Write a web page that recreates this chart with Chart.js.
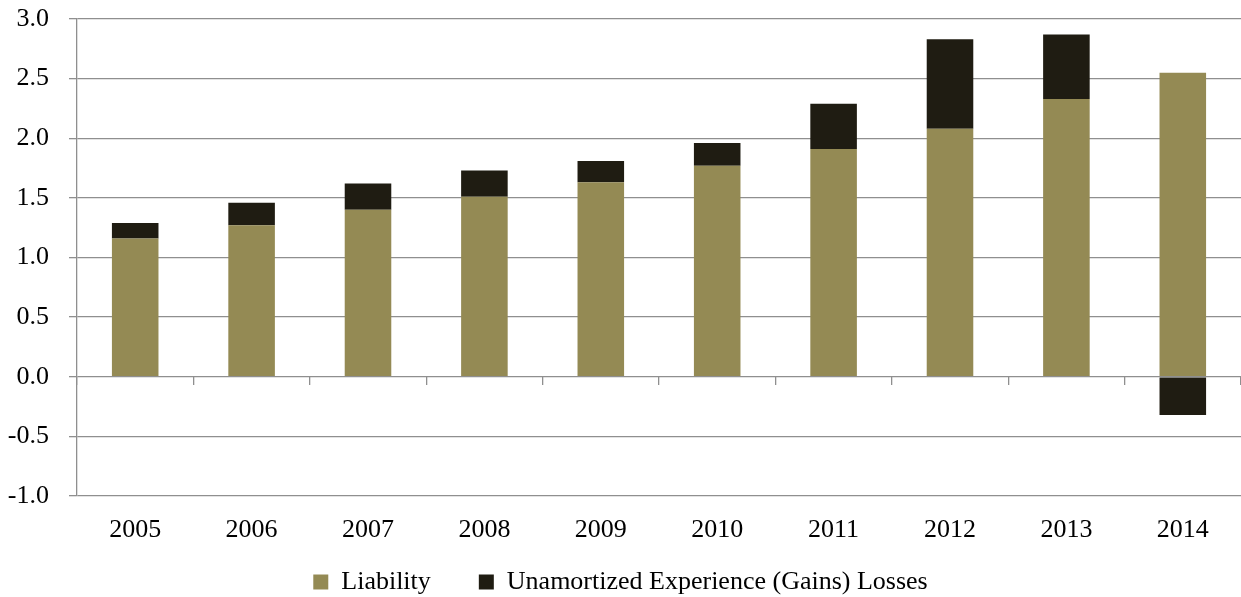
<!DOCTYPE html>
<html>
<head>
<meta charset="utf-8">
<script src="https://cdn.jsdelivr.net/npm/chart.js@4"></script>
<style>
  html, body { margin: 0; padding: 0; background: #fff; }
</style>
</head>
<body>
<canvas id="myChart" width="1241" height="597"></canvas>
<script>
// chart data
const years = ["2005", "2006", "2007", "2008", "2009", "2010", "2011", "2012", "2013", "2014"];
const liability = [1.16, 1.27, 1.40, 1.51, 1.63, 1.77, 1.91, 2.08, 2.33, 2.55];
const unamortized = [0.13, 0.19, 0.22, 0.22, 0.18, 0.19, 0.38, 0.75, 0.54, -0.32];
const yTicks = { min: -1.0, max: 3.0, step: 0.5 };

const serif = "'Liberation Serif', 'Times New Roman', serif";
const gridColor = "#8f8f8f";

const ctx = document.getElementById("myChart").getContext("2d");
new Chart(ctx, {
  type: "bar",
  data: {
    labels: years,
    datasets: [
      {
        label: "Liability",
        data: liability,
        backgroundColor: "#948a54",
        borderWidth: 0,
      },
      {
        label: "Unamortized Experience (Gains) Losses",
        data: unamortized,
        backgroundColor: "#1f1c12",
        borderWidth: 0,
      },
    ],
  },
  options: {
    responsive: false,
    animation: false,
    layout: {
      padding: { top: 19, right: 0, left: 0, bottom: -8 },
    },
    datasets: {
      bar: { barPercentage: 0.4, categoryPercentage: 1.0 },
    },
    scales: {
      x: {
        stacked: true,
        grid: { display: false },
        border: { display: false },
        afterFit: function (scale) {
          scale.height = 25;
        },
        // mirror only so the labels are not clipped to the short axis box
        ticks: {
          mirror: true,
          color: "#000",
          font: { family: serif, size: 26 },
          padding: -50,
          maxRotation: 0,
        },
      },
      // second category axis sitting on the zero line, only for its tick marks
      x2: {
        type: "category",
        labels: years,
        position: { y: 0 },
        offset: true,
        afterFit: function (scale) {
          scale.height = 0;
        },
        grid: {
          offset: true,
          drawOnChartArea: false,
          drawTicks: true,
          tickLength: 8,
          color: gridColor,
          lineWidth: 1.3,
        },
        border: { display: false },
        ticks: { display: false },
      },
      y: {
        stacked: true,
        min: yTicks.min,
        max: yTicks.max,
        afterFit: function (scale) {
          scale.width = 77;
          scale.paddingTop = 0;
          scale.paddingBottom = 0;
        },
        ticks: {
          stepSize: yTicks.step,
          color: "#000",
          font: { family: serif, size: 26 },
          padding: 20,
          callback: function (value) {
            return Number(value).toFixed(1);
          },
        },
        grid: {
          color: gridColor,
          lineWidth: 1.3,
          tickLength: 8,
        },
        border: { color: gridColor, width: 1.3 },
      },
    },
    plugins: {
      legend: {
        position: "bottom",
        labels: {
          color: "#000",
          font: { family: serif, size: 26 },
          boxWidth: 15,
          boxHeight: 15,
          padding: 48,
        },
      },
      tooltip: { enabled: false },
    },
  },
});
</script>
</body>
</html>
